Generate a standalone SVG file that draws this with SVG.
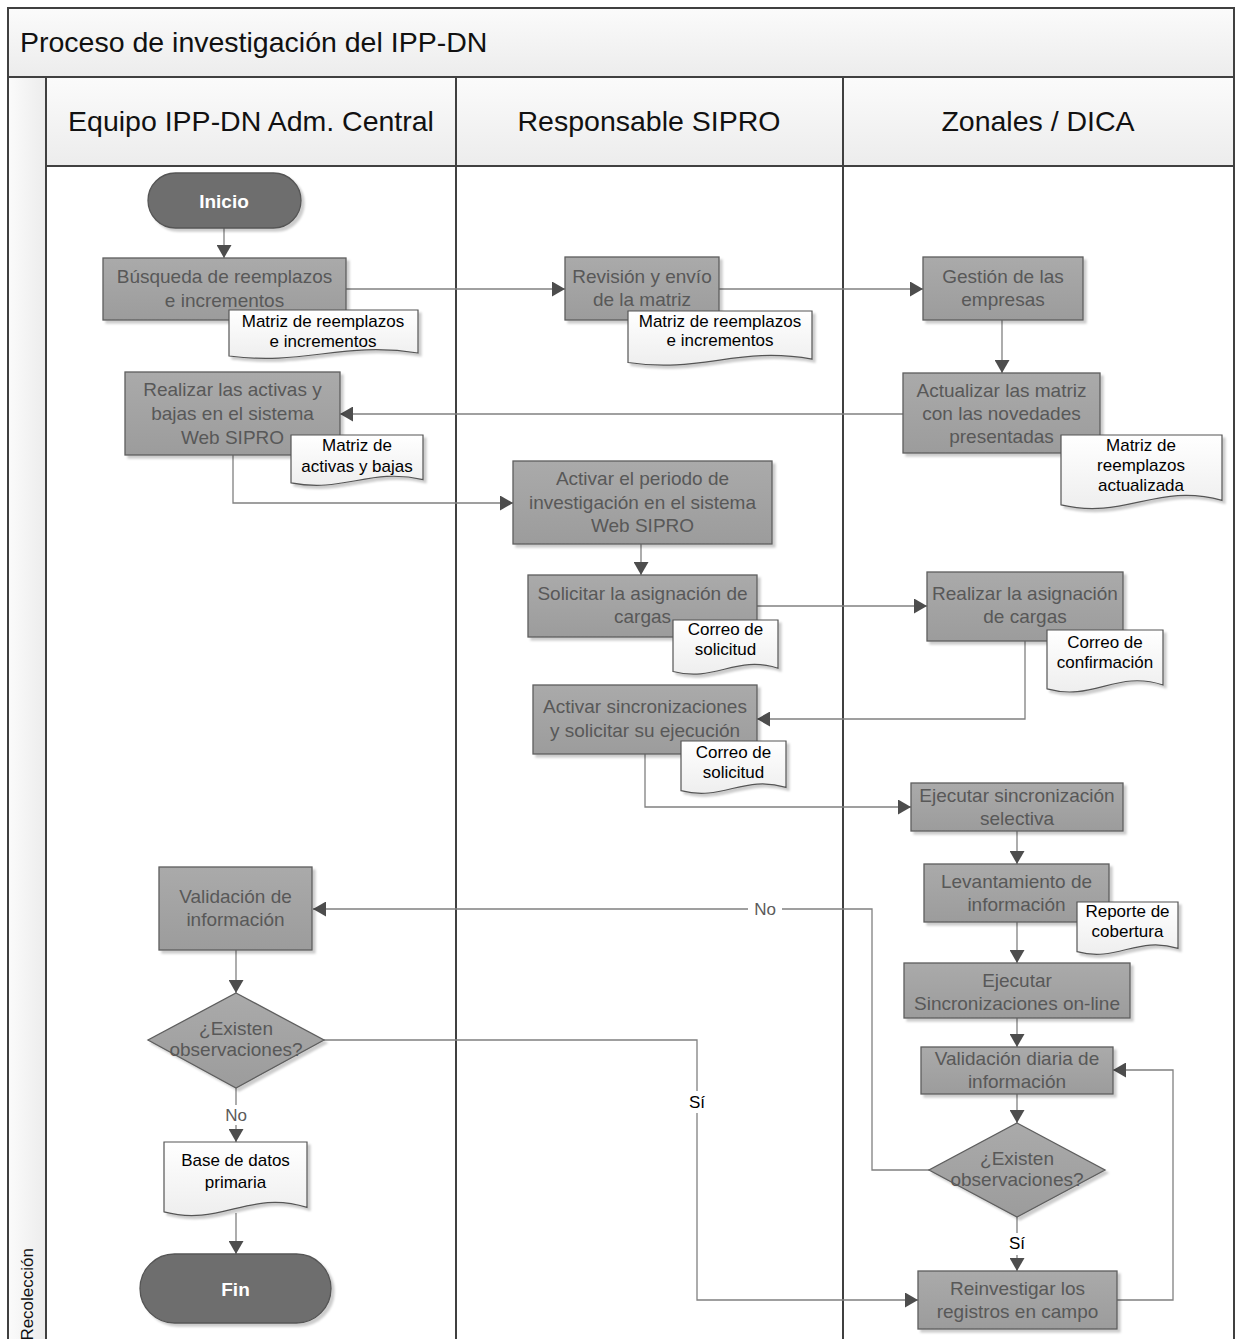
<svg xmlns="http://www.w3.org/2000/svg" width="1236" height="1339" viewBox="0 0 1236 1339">
<defs>
<style>
text{font-family:"Liberation Sans",Arial,sans-serif}
.box{fill:url(#gBox);stroke:#5e5e5e;stroke-width:1.3;filter:url(#sh)}
.pill{fill:#6e6e6e;stroke:#555;stroke-width:1.3;filter:url(#sh)}
.doc{fill:url(#gDoc);stroke:#555;stroke-width:1.2;filter:url(#sh)}
.bt{font-size:19px;fill:#585858;text-anchor:middle}
.dt{font-size:17px;fill:#000;text-anchor:middle}
.pt{font-size:19px;fill:#fff;font-weight:bold;text-anchor:middle}
.hd{fill:url(#gHd);stroke:#404040;stroke-width:2}
.ht{font-size:28.5px;fill:#111;text-anchor:middle}
.cn{fill:none;stroke:#808080;stroke-width:1.3}
.cna{fill:none;stroke:#808080;stroke-width:1.3;marker-end:url(#ah)}
.lb{font-size:17px;text-anchor:middle}
</style>
<linearGradient id="gBox" x1="0" y1="0" x2="0" y2="1"><stop offset="0" stop-color="#aaaaaa"/><stop offset="1" stop-color="#9c9c9c"/></linearGradient>
<linearGradient id="gDoc" x1="0" y1="0" x2="0" y2="1"><stop offset="0" stop-color="#ffffff"/><stop offset="1" stop-color="#eeeeee"/></linearGradient>
<linearGradient id="gHd" x1="0" y1="0" x2="0" y2="1"><stop offset="0" stop-color="#fbfbfb"/><stop offset="1" stop-color="#ececec"/></linearGradient>
<linearGradient id="gCol" x1="0" y1="0" x2="1" y2="0"><stop offset="0" stop-color="#fbfbfb"/><stop offset="1" stop-color="#ececec"/></linearGradient>
<filter id="sh" x="-10%" y="-10%" width="125%" height="130%"><feDropShadow dx="3" dy="3" stdDeviation="1.2" flood-color="#000" flood-opacity="0.2"/></filter>
<marker id="ah" markerUnits="userSpaceOnUse" viewBox="0 0 13 15" markerWidth="13" markerHeight="15" refX="13" refY="7.5" orient="auto"><path d="M0,0 L13,7.5 L0,15 Z" fill="#4d4d4d"/></marker>
</defs>

<g id="frame">
<rect x="8" y="8" width="1226" height="1340" fill="#fff" stroke="#404040" stroke-width="2"/>
<rect class="hd" x="8" y="8" width="1226" height="69"/>
<text x="20" y="52" font-size="28.5" fill="#111">Proceso de investigación del IPP-DN</text>
<rect x="8" y="77" width="38" height="1270" fill="url(#gCol)" stroke="#404040" stroke-width="2"/>
<text transform="translate(33,1248) rotate(-90)" text-anchor="end" font-size="17" fill="#111">Recolección</text>
<rect class="hd" x="46" y="77" width="410" height="89"/>
<rect class="hd" x="456" y="77" width="387" height="89"/>
<rect class="hd" x="843" y="77" width="391" height="89"/>
<text class="ht" x="251" y="131">Equipo IPP-DN Adm. Central</text>
<text class="ht" x="649" y="131">Responsable SIPRO</text>
<text class="ht" x="1038" y="131">Zonales / DICA</text>
<line x1="456" y1="166" x2="456" y2="1339" stroke="#404040" stroke-width="2"/>
<line x1="843" y1="166" x2="843" y2="1339" stroke="#404040" stroke-width="2"/>
</g>

<g id="connectors">
<path class="cna" d="M224,228 V258"/>
<path class="cna" d="M346,289 H565"/>
<path class="cna" d="M719,289 H923"/>
<path class="cna" d="M1002,320 V373"/>
<path class="cna" d="M903,414 H340"/>
<path class="cna" d="M233,455 V503 H513"/>
<path class="cna" d="M641,544 V575"/>
<path class="cna" d="M757,606 H927"/>
<path class="cna" d="M1025,641 V719 H757"/>
<path class="cna" d="M645,754 V807 H911"/>
<path class="cna" d="M1017,831 V864"/>
<path class="cna" d="M1017,922 V963"/>
<path class="cna" d="M1017,1018 V1047"/>
<path class="cna" d="M1017,1094 V1123"/>
<path class="cna" d="M1017,1217 V1271"/>
<path class="cna" d="M1117,1300 H1173 V1070 H1113"/>
<path class="cna" d="M929,1170 H872 V909 H313"/>
<path class="cna" d="M236,950 V993"/>
<path class="cna" d="M324,1040 H697 V1300 H918"/>
<path class="cna" d="M236,1088 V1142"/>
<path class="cna" d="M236,1213 V1254"/>
<rect x="748" y="899" width="34" height="20" fill="#fff"/>
<text class="lb" x="765" y="915" fill="#5a5a5a">No</text>
<rect x="686" y="1091" width="22" height="22" fill="#fff"/>
<text class="lb" x="697" y="1108" fill="#000">Sí</text>
<rect x="220" y="1105" width="32" height="20" fill="#fff"/>
<text class="lb" x="236" y="1121" fill="#5a5a5a">No</text>
<rect x="1006" y="1233" width="22" height="22" fill="#fff"/>
<text class="lb" x="1017" y="1249" fill="#000">Sí</text>
</g>

<g id="inicio">
<rect class="pill" x="148" y="173" width="153" height="55" rx="27.5"/>
<text class="pt" x="224" y="208">Inicio</text>
</g>

<g id="busqueda">
<rect class="box" x="103" y="258" width="243" height="62"/>
<text class="bt" x="224.5" y="283">Búsqueda de reemplazos</text>
<text class="bt" x="224.5" y="307">e incrementos</text>
</g>
<g id="doc-matriz1">
<path class="doc" d="M229,310 H418 V353 C342.4,341 304.6,366 229,356 Z"/>
<text class="dt" x="323" y="327">Matriz de reemplazos</text>
<text class="dt" x="323" y="347">e incrementos</text>
</g>

<g id="realizar-activas">
<rect class="box" x="125" y="372" width="215" height="83"/>
<text class="bt" x="232.5" y="396">Realizar las activas y</text>
<text class="bt" x="232.5" y="420">bajas en el sistema</text>
<text class="bt" x="232.5" y="444">Web SIPRO</text>
</g>
<g id="doc-activas">
<path class="doc" d="M291,435 H423 V479.7 C370.2,467.2 343.8,493.2 291,482.8 Z"/>
<text class="dt" x="357" y="451">Matriz de</text>
<text class="dt" x="357" y="472">activas y bajas</text>
</g>

<g id="revision">
<rect class="box" x="565" y="257" width="154" height="63"/>
<text class="bt" x="642" y="283">Revisión y envío</text>
<text class="bt" x="642" y="306">de la matriz</text>
</g>
<g id="doc-matriz2">
<path class="doc" d="M628,311 H812 V359.2 C738.4,345.7 701.6,373.7 628,362.5 Z"/>
<text class="dt" x="720" y="327">Matriz de reemplazos</text>
<text class="dt" x="720" y="346">e incrementos</text>
</g>

<g id="activar-periodo">
<rect class="box" x="513" y="461" width="259" height="83"/>
<text class="bt" x="642.5" y="485">Activar el periodo de</text>
<text class="bt" x="642.5" y="509">investigación en el sistema</text>
<text class="bt" x="642.5" y="532">Web SIPRO</text>
</g>

<g id="gestion">
<rect class="box" x="923" y="257" width="160" height="63"/>
<text class="bt" x="1003" y="283">Gestión de las</text>
<text class="bt" x="1003" y="306">empresas</text>
</g>

<g id="actualizar">
<rect class="box" x="903" y="373" width="197" height="80"/>
<text class="bt" x="1001.5" y="397">Actualizar las matriz</text>
<text class="bt" x="1001.5" y="420">con las novedades</text>
<text class="bt" x="1001.5" y="443">presentadas</text>
</g>
<g id="doc-actualizada">
<path class="doc" d="M1061,435 H1222 V500.4 C1157.6,482.1 1125.4,520.1 1061,504.9 Z"/>
<text class="dt" x="1141" y="451">Matriz de</text>
<text class="dt" x="1141" y="471">reemplazos</text>
<text class="dt" x="1141" y="491">actualizada</text>
</g>

<g id="solicitar">
<rect class="box" x="528" y="575" width="229" height="62"/>
<text class="bt" x="642.5" y="600">Solicitar la asignación de</text>
<text class="bt" x="642.5" y="623">cargas</text>
</g>
<g id="doc-correo1">
<path class="doc" d="M673,620 H778 V668.2 C736,654.7 715,682.7 673,671.5 Z"/>
<text class="dt" x="725.5" y="635">Correo de</text>
<text class="dt" x="725.5" y="655">solicitud</text>
</g>

<g id="realizar-asignacion">
<rect class="box" x="927" y="572" width="196" height="69"/>
<text class="bt" x="1025" y="600">Realizar la asignación</text>
<text class="bt" x="1025" y="623">de cargas</text>
</g>
<g id="doc-confirmacion">
<path class="doc" d="M1047,630 H1163 V685 C1116.6,669.7 1093.4,701.7 1047,688.9 Z"/>
<text class="dt" x="1105" y="648">Correo de</text>
<text class="dt" x="1105" y="668">confirmación</text>
</g>

<g id="activar-sincronizaciones">
<rect class="box" x="533" y="685" width="224" height="69"/>
<text class="bt" x="645" y="713">Activar sincronizaciones</text>
<text class="bt" x="645" y="737">y solicitar su ejecución</text>
</g>
<g id="doc-correo2">
<path class="doc" d="M681,741 H786 V787.4 C744,774.5 723,801.5 681,790.7 Z"/>
<text class="dt" x="733.5" y="758">Correo de</text>
<text class="dt" x="733.5" y="778">solicitud</text>
</g>

<g id="ejecutar-selectiva">
<rect class="box" x="911" y="783" width="212" height="48"/>
<text class="bt" x="1017" y="802">Ejecutar sincronización</text>
<text class="bt" x="1017" y="825">selectiva</text>
</g>

<g id="levantamiento">
<rect class="box" x="924" y="864" width="185" height="58"/>
<text class="bt" x="1016.5" y="888">Levantamiento de</text>
<text class="bt" x="1016.5" y="911">información</text>
</g>
<g id="doc-reporte">
<path class="doc" d="M1077,902 H1178 V948.4 C1137.6,935.5 1117.4,962.5 1077,951.7 Z"/>
<text class="dt" x="1127.5" y="917">Reporte de</text>
<text class="dt" x="1127.5" y="937">cobertura</text>
</g>

<g id="ejecutar-online">
<rect class="box" x="904" y="963" width="226" height="55"/>
<text class="bt" x="1017" y="987">Ejecutar</text>
<text class="bt" x="1017" y="1010">Sincronizaciones on-line</text>
</g>

<g id="validacion-diaria">
<rect class="box" x="921" y="1047" width="192" height="47"/>
<text class="bt" x="1017" y="1065">Validación diaria de</text>
<text class="bt" x="1017" y="1088">información</text>
</g>

<g id="decision-zonal">
<polygon class="box" points="1017,1123 1105,1170 1017,1217 929,1170"/>
<text class="bt" x="1017" y="1165" font-size="17.5">¿Existen</text>
<text class="bt" x="1017" y="1186" font-size="17.5">observaciones?</text>
</g>

<g id="reinvestigar">
<rect class="box" x="918" y="1271" width="199" height="58"/>
<text class="bt" x="1017.5" y="1295">Reinvestigar los</text>
<text class="bt" x="1017.5" y="1318">registros en campo</text>
</g>

<g id="validacion">
<rect class="box" x="159" y="867" width="153" height="83"/>
<text class="bt" x="235.5" y="903">Validación de</text>
<text class="bt" x="235.5" y="926">información</text>
</g>

<g id="decision-central">
<polygon class="box" points="236,993 324,1040 236,1088 148,1040"/>
<text class="bt" x="236" y="1035" font-size="17.5">¿Existen</text>
<text class="bt" x="236" y="1056" font-size="17.5">observaciones?</text>
</g>

<g id="base-datos">
<path class="doc" d="M164,1142 H307 V1207.4 C249.8,1189.1 221.2,1227.1 164,1211.9 Z"/>
<text class="dt" x="235.5" y="1166" font-size="18.5">Base de datos</text>
<text class="dt" x="235.5" y="1188" font-size="18.5">primaria</text>
</g>

<g id="fin">
<rect class="pill" x="140" y="1254" width="191" height="69" rx="34.5"/>
<text class="pt" x="235.5" y="1296">Fin</text>
</g>
</svg>
